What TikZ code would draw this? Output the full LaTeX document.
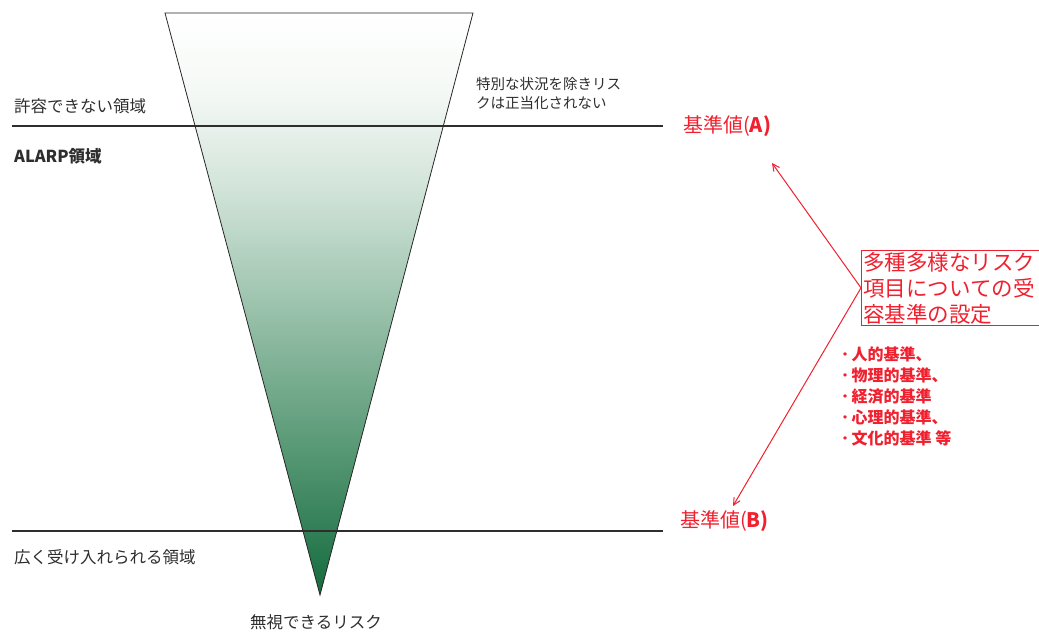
\documentclass[tikz,border=0pt]{standalone}
\usepackage{fontspec}
\setmainfont{Noto Sans CJK JP}
\usetikzlibrary{arrows.meta}
\definecolor{txt}{HTML}{2E2E2E}
\definecolor{rd}{HTML}{F0202E}
\definecolor{g1}{HTML}{146B3E}
\definecolor{g2}{HTML}{5A9A77}
\definecolor{g3}{HTML}{9CC3AD}
\definecolor{g4}{HTML}{D2E4D9}
\definecolor{g5}{HTML}{F4F8F5}
\pgfdeclareverticalshading{trishade}{100bp}{color(0bp)=(g1); color(25bp)=(g1); color(38bp)=(g2); color(50bp)=(g3); color(60bp)=(g4); color(68bp)=(g5); color(75bp)=(white); color(100bp)=(white)}
\newcommand{\bdot}{･\hspace{2.5pt}}
\begin{document}
\begin{tikzpicture}[x=1pt,y=-1pt,
  lbl/.style={anchor=west,inner sep=0pt,text=txt,font=\fontsize{16.5}{20}\selectfont},
  sml/.style={anchor=west,inner sep=0pt,text=txt,align=left,font=\fontsize{14.5}{19}\selectfont},
  kijun/.style={anchor=west,inner sep=0pt,text=rd,font=\fontsize{20}{24}\selectfont},
  bullet/.style={anchor=north west,inner sep=0pt,text=rd,align=left,font=\bfseries\fontsize{16}{20.8}\selectfont},
  redarrow/.style={draw=rd,line width=1pt,-{Straight Barb[length=7pt,width=7pt]}},
  hline/.style={draw=txt,line width=1.3pt}]
\useasboundingbox (0,0) rectangle (1039,634);
% triangle
\coordinate (tl) at (165,13);
\coordinate (tr) at (473,13);
\coordinate (ap) at (320,595);
\shade[shading=trishade] (tl) -- (tr) -- (ap) -- cycle;
\draw[line width=0.8pt,black!85] (tl) -- (tr) -- (ap) -- cycle;
% horizontal lines
\coordinate (l1a) at (12,126);
\coordinate (l1b) at (663,126);
\coordinate (l2a) at (12,531);
\coordinate (l2b) at (663,531);
\draw[hline] (l1a) -- (l1b);
\draw[hline] (l2a) -- (l2b);
% labels
\node[lbl] (unacc) at (14,106) {許容できない領域};
\node[lbl,font=\bfseries\fontsize{16.5}{20}\selectfont] (alarp) at (14,156) {ALARP領域};
\node[lbl] (broad) at (14,557) {広く受け入れられる領域};
\node[lbl,anchor=center] (negl) at (316,622) {無視できるリスク};
\node[sml,anchor=north west] (special) at (476,77) {特別な状況を除きリス\\クは正当化されない};
\node[kijun] (ka) at (683,126) {基準値(\textbf{A)}};
\node[kijun] (kb) at (680,521) {基準値(\textbf{B)}};
% box
\node[draw=rd,line width=0.8pt,text=rd,anchor=north west,align=left,inner xsep=2pt,inner ysep=1.5pt,
      text width=190pt,font=\fontsize{21.5}{26}\selectfont] (box) at (861,250) {多種多様なリスク\\項目についての受\\容基準の設定};
\node[bullet] (list) at (841,347) {\bdot 人的基準、\\\bdot 物理的基準、\\\bdot 経済的基準\\\bdot 心理的基準、\\\bdot 文化的基準 等};
% arrows
\coordinate (tipa) at (772,163);
\coordinate (tipb) at (733,506);
\draw[redarrow] (box.west) -- (tipa);
\draw[redarrow] (box.west) -- (tipb);
\end{tikzpicture}
\end{document}
